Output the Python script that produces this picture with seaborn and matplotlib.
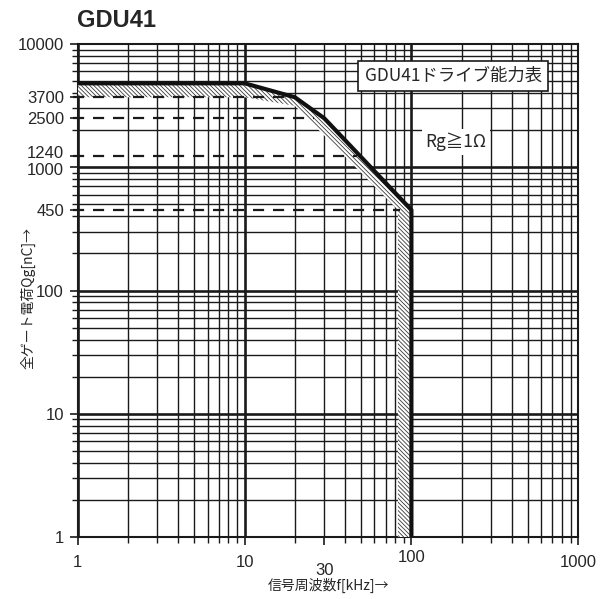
import numpy as np
import pandas as pd
import matplotlib
matplotlib.use('Agg')
import matplotlib.pyplot as plt
import matplotlib.transforms as mtransforms
from matplotlib.ticker import FixedLocator, NullFormatter
import seaborn as sns

# drive capability curve (upper limit), frequency kHz / charge nC
upper_f = [1, 10, 20, 30, 100, 100]
upper_q = [4800, 4800, 3700, 2500, 450, 1]
# lower edge of the hatched band
lower_f = [1, 10, 20, 83, 83]
lower_q = [3700, 3700, 3150, 450, 1]

# dashed reference levels and where they stop
ref_q = [3700, 2500, 1240, 450]
ref_end_f = [20, 26, 47, 86]

y_ticks = [1, 10, 100, 450, 1000, 1240, 2500, 3700, 10000]
x_ticks = [1, 10, 30, 100, 1000]

sns.set_style('white')
plt.rcParams['font.family'] = ['Liberation Sans', 'Noto Sans CJK JP', 'DejaVu Sans']
plt.rcParams['hatch.linewidth'] = 0.6

fig = plt.figure(figsize=(6.08, 5.99), dpi=100)
ax = fig.add_axes([0.128, 0.1035, 0.823, 0.823])
ax.set_xscale('log')
ax.set_yscale('log')
ax.set_xlim(1, 1000)
ax.set_ylim(1, 10000)

# grid
for d in [1, 10, 100]:
    for k in range(1, 10):
        ax.axvline(d * k, color='#1a1a1a', lw=1.9 if k == 1 else 1.0, zorder=1)
for d in [1, 10, 100, 1000]:
    for k in range(1, 10):
        ax.axhline(d * k, color='#1a1a1a', lw=1.9 if k == 1 else 1.0, zorder=1)

# hatched band
band_f = upper_f + lower_f[::-1]
band_q = upper_q + lower_q[::-1]
ax.fill(band_f, band_q, facecolor='white', edgecolor='#3a3a3a', hatch='\\' * 8,
        lw=0, zorder=3)

# dashed levels
for q, fe in zip(ref_q, ref_end_f):
    ax.plot([0.93, fe], [q, q], color='#1a1a1a', lw=1.6, ls=(0, (5, 4)),
            zorder=4, clip_on=False)

curve = pd.DataFrame({'f': upper_f, 'q': upper_q})
sns.lineplot(data=curve, x='f', y='q', sort=False, estimator=None,
             color='#111111', lw=3, ax=ax, zorder=5)

ax.yaxis.set_major_locator(FixedLocator(y_ticks))
ax.set_yticklabels([str(v) for v in y_ticks], fontsize=12)
ax.yaxis.set_minor_locator(FixedLocator([d * k for d in [1, 10, 100, 1000] for k in range(2, 10)]))
ax.yaxis.set_minor_formatter(NullFormatter())
ax.xaxis.set_major_locator(FixedLocator(x_ticks))
ax.set_xticklabels([str(v) for v in x_ticks], fontsize=12)
ax.xaxis.set_minor_locator(FixedLocator([d * k for d in [1, 10, 100] for k in range(2, 10)]))
ax.xaxis.set_minor_formatter(NullFormatter())
ax.tick_params(axis='both', which='major', direction='out', length=6, width=1.2,
               color='#1a1a1a', pad=4, left=True, bottom=True)
ax.tick_params(axis='both', which='minor', direction='out', length=4, width=1.0,
               color='#1a1a1a', left=True, bottom=True)
ax.tick_params(axis='x', which='major', pad=7)

# label nudges as in the original print
shift = {'30': -5.5, '100': 3.5}
for lab in ax.get_xticklabels():
    if lab.get_text() in shift:
        lab.set_transform(lab.get_transform() + mtransforms.ScaledTranslation(
            0, shift[lab.get_text()] / 72, fig.dpi_scale_trans))
yshift = {'1240': 3, '1000': -1.5}
for lab in ax.get_yticklabels():
    if lab.get_text() in yshift:
        lab.set_transform(lab.get_transform() + mtransforms.ScaledTranslation(
            0, yshift[lab.get_text()] / 72, fig.dpi_scale_trans))

for s in ax.spines.values():
    s.set_color('#1a1a1a')
    s.set_linewidth(1.5)

jp = ['Noto Sans CJK JP', 'DejaVu Sans']
ax.set_xlabel('信号周波数f[kHz]→', fontsize=10, family=jp)
ax.xaxis.set_label_coords(0.5, -0.083)
ax.set_ylabel('全ゲート電荷Qg[nC]→', fontsize=10, family=jp)
ax.yaxis.set_label_coords(-0.1, 0.485)
ax.yaxis.label.set_va('center')

fig.text(0.127, 0.965, 'GDU41', fontsize=17, fontweight='bold', ha='left', va='center')

ax.text(0.75, 0.935, 'GDU41ドライブ能力表', transform=ax.transAxes, fontsize=12.5,
        family=jp, ha='center', va='center', zorder=6,
        bbox=dict(boxstyle='square,pad=0.35', facecolor='white', edgecolor='#1a1a1a', lw=1.2))
ax.text(0.756, 0.801, 'Rg≧1Ω', transform=ax.transAxes, fontsize=12.5,
        family=jp, ha='center', va='center', zorder=6,
        bbox=dict(boxstyle='square,pad=0.2', facecolor='white', edgecolor='none'))

fig.savefig('out.png', dpi=100)
